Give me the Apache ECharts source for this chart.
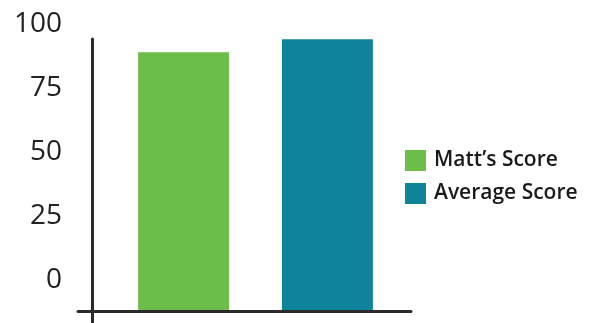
<!DOCTYPE html>
<html>
<head>
    <meta charset="utf-8">
    <title>Matt's Score</title>
    <script src="https://cdn.jsdelivr.net/npm/echarts@6/dist/echarts.min.js"></script>
    <style>
        html, body { margin: 0; padding: 0; background: #fff; }
        #chart { width: 596px; height: 323px; }
    </style>
</head>
<body>
<div id="chart"></div>
<script>
    // data
    var categories = [''];
    var seriesNames = ['Matt’s Score', 'Average Score'];
    var mattScore = [89];
    var averageScore = [94];
    var yTicks = [0, 25, 50, 75, 100];

    // the picture puts the 0 label above the bar base, so the value axis runs a bit below 0
    var pxPerUnit = 2.56;
    var yMin = -42 / pxPerUnit;
    var barBase = -30 / pxPerUnit;

    var myChart = echarts.init(document.getElementById('chart'));
    var axisColor = '#2b2b2b';

    myChart.setOption({
        animation: false,
        textStyle: { fontFamily: 'Open Sans' },
        legend: {
            orient: 'vertical',
            left: 405,
            top: 150,
            padding: 0,
            icon: 'rect',
            itemWidth: 21,
            itemHeight: 21,
            itemGap: 12,
            data: seriesNames,
            textStyle: { fontSize: 21, fontWeight: 600, color: '#1a1a1a', fontFamily: 'Open Sans', padding: [0, 0, 0, 3] }
        },
        grid: [
            // bars + labels
            { left: 100, right: 185, top: 24, bottom: 1 },
            // axis lines
            { left: 78, right: 185, top: 39, bottom: 1 }
        ],
        xAxis: [
            { gridIndex: 0, type: 'category', data: categories, show: false },
            {
                gridIndex: 1, type: 'category', data: categories, offset: -10.5,
                axisLine: { show: true, onZero: false, lineStyle: { color: axisColor, width: 3 } },
                axisTick: { show: false }, axisLabel: { show: false }
            }
        ],
        yAxis: [
            {
                gridIndex: 0, type: 'value', min: yMin, max: 100, startValue: barBase, offset: 8,
                axisLine: { show: false }, axisTick: { show: false }, splitLine: { show: false },
                axisLabel: {
                    customValues: yTicks, margin: 30, fontSize: 28, color: '#222', fontFamily: 'Open Sans'
                }
            },
            {
                gridIndex: 1, type: 'value', min: 0, max: 1, offset: -14,
                axisLine: { show: true, onZero: false, lineStyle: { color: axisColor, width: 3 } },
                axisTick: { show: false }, axisLabel: { show: false }, splitLine: { show: false }
            }
        ],
        series: [
            {
                name: seriesNames[0], type: 'bar', xAxisIndex: 0, yAxisIndex: 0,
                barWidth: 91, barGap: '58%', data: mattScore,
                itemStyle: { color: '#6dbd4b' }
            },
            {
                name: seriesNames[1], type: 'bar', xAxisIndex: 0, yAxisIndex: 0,
                barWidth: 91, barGap: '58%', data: averageScore,
                itemStyle: { color: '#0e8399' }
            }
        ]
    });
</script>
</body>
</html>
